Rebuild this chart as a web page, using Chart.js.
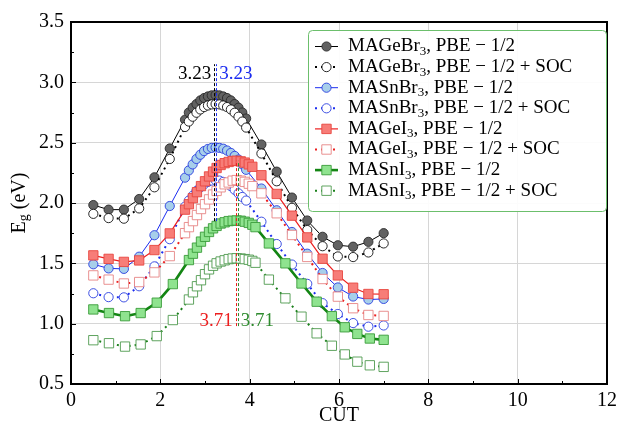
<!DOCTYPE html>
<html>
<head>
<meta charset="utf-8">
<script src="https://cdn.jsdelivr.net/npm/chart.js@4.4.0/dist/chart.umd.min.js"></script>
<style>
  html, body { margin: 0; padding: 0; background: #fff; }
  #wrap { width: 622px; height: 426px; position: relative; }
</style>
</head>
<body>
<div id="wrap"><canvas id="myChart"></canvas></div>
<script>
// x positions (CUT) - Br compounds and MAGeI3 share the coarse grid, MASnI3 has its own
const xBr = [0.5, 0.842, 1.184, 1.526, 1.868, 2.211, 2.553, 2.638, 2.724, 2.809, 2.895, 2.98, 3.066, 3.151, 3.237, 3.322, 3.408, 3.493, 3.579, 3.664, 3.75, 3.835, 3.921, 4.263, 4.605, 4.947, 5.289, 5.632, 5.974, 6.316, 6.658, 7.0];
const xGeI = [0.5, 0.842, 1.184, 1.526, 1.868, 2.211, 2.553, 2.64, 2.73, 2.82, 2.91, 3.0, 3.09, 3.18, 3.26, 3.35, 3.44, 3.53, 3.62, 3.71, 3.8, 3.89, 3.98, 4.06, 4.263, 4.605, 4.947, 5.289, 5.632, 5.974, 6.316, 6.658, 7.0];
const xSnI = [0.5, 0.85, 1.21, 1.56, 1.92, 2.28, 2.64, 2.73, 2.82, 2.91, 3.0, 3.09, 3.18, 3.26, 3.35, 3.44, 3.53, 3.62, 3.71, 3.8, 3.89, 3.98, 4.06, 4.13, 4.43, 4.8, 5.16, 5.5, 5.84, 6.13, 6.41, 6.69, 7.0];

// band gaps (eV)
const geBr = [1.983, 1.945, 1.945, 2.033, 2.213, 2.452, 2.69, 2.75, 2.79, 2.82, 2.85, 2.87, 2.883, 2.892, 2.895, 2.892, 2.883, 2.87, 2.85, 2.82, 2.79, 2.75, 2.70, 2.485, 2.26, 2.045, 1.855, 1.72, 1.65, 1.638, 1.678, 1.75];
const geBrSoc = [1.91, 1.875, 1.87, 1.955, 2.13, 2.365, 2.63, 2.675, 2.715, 2.748, 2.775, 2.795, 2.808, 2.817, 2.82, 2.817, 2.808, 2.795, 2.775, 2.748, 2.715, 2.675, 2.625, 2.41, 2.18, 1.96, 1.776, 1.642, 1.557, 1.552, 1.59, 1.665];
const snBr = [1.492, 1.458, 1.454, 1.555, 1.733, 1.975, 2.21, 2.27, 2.32, 2.365, 2.40, 2.43, 2.448, 2.457, 2.46, 2.457, 2.45, 2.435, 2.415, 2.39, 2.36, 2.32, 2.275, 2.12, 1.94, 1.76, 1.58, 1.42, 1.30, 1.225, 1.20, 1.205];
const snBrSoc = [1.252, 1.22, 1.218, 1.31, 1.475, 1.70, 1.97, 2.02, 2.06, 2.10, 2.13, 2.155, 2.175, 2.186, 2.19, 2.186, 2.175, 2.16, 2.14, 2.11, 2.08, 2.05, 2.02, 1.845, 1.66, 1.49, 1.33, 1.17, 1.08, 1.005, 0.975, 0.985];
const geI = [1.566, 1.537, 1.512, 1.524, 1.61, 1.748, 1.945, 1.99, 2.04, 2.09, 2.14, 2.18, 2.22, 2.26, 2.29, 2.315, 2.33, 2.34, 2.348, 2.35, 2.345, 2.335, 2.32, 2.30, 2.23, 2.075, 1.895, 1.715, 1.538, 1.40, 1.298, 1.246, 1.244];
const geISoc = [1.40, 1.365, 1.333, 1.345, 1.425, 1.56, 1.75, 1.80, 1.85, 1.90, 1.95, 1.99, 2.03, 2.07, 2.10, 2.13, 2.155, 2.17, 2.185, 2.19, 2.185, 2.175, 2.16, 2.14, 2.08, 1.915, 1.735, 1.553, 1.37, 1.224, 1.128, 1.072, 1.064];
const snI = [1.118, 1.088, 1.062, 1.088, 1.174, 1.328, 1.527, 1.58, 1.63, 1.68, 1.72, 1.76, 1.79, 1.81, 1.83, 1.84, 1.85, 1.853, 1.855, 1.853, 1.845, 1.835, 1.82, 1.80, 1.665, 1.50, 1.333, 1.182, 1.062, 0.97, 0.915, 0.877, 0.866];
const snISoc = [0.863, 0.838, 0.81, 0.828, 0.897, 1.03, 1.20, 1.26, 1.31, 1.36, 1.41, 1.45, 1.48, 1.50, 1.515, 1.525, 1.535, 1.54, 1.542, 1.54, 1.535, 1.53, 1.52, 1.505, 1.365, 1.21, 1.058, 0.92, 0.817, 0.745, 0.685, 0.655, 0.642];

const labels = ['MAGeBr₃, PBE − 1/2', 'MAGeBr₃, PBE − 1/2 + SOC', 'MASnBr₃, PBE − 1/2', 'MASnBr₃, PBE − 1/2 + SOC',
                'MAGeI₃, PBE − 1/2', 'MAGeI₃, PBE − 1/2 + SOC', 'MASnI₃, PBE − 1/2', 'MASnI₃, PBE − 1/2 + SOC'];

// peak positions marked with dashed lines
const peakBr = 3.23;
const peakI = 3.71;

const FONT = "'Liberation Serif', 'DejaVu Serif', serif";

function pts(xs, ys) {
    return xs.map((v, i) => ({ x: v, y: ys[i] }));
}

// style of each series: marker, fill, edge, line colour, line width, dotted?
const styles = [
    { shape: 'circle', fill: '#626262', edge: '#2a2a2a', line: '#000000', lw: 1, dot: false },
    { shape: 'circle', fill: '#ffffff', edge: '#111111', line: '#000000', lw: 2, dot: true },
    { shape: 'circle', fill: '#a7cfea', edge: '#2a3ee0', line: '#1b2cf0', lw: 1, dot: false },
    { shape: 'rectless', fill: '#ffffff', edge: '#2a3ee0', line: '#1b2cf0', lw: 2, dot: true },
    { shape: 'rect', fill: '#f77d78', edge: '#e8463f', line: '#ec1e1e', lw: 1.2, dot: false },
    { shape: 'rect', fill: '#ffffff', edge: '#e68585', line: '#ec1e1e', lw: 2, dot: true },
    { shape: 'rect', fill: '#8fe38f', edge: '#3a9c3a', line: '#138513', lw: 2.6, dot: false },
    { shape: 'rect', fill: '#ffffff', edge: '#4e9a4e', line: '#1a801a', lw: 2, dot: true },
];
styles[3].shape = 'circle';

const series = [pts(xBr, geBr), pts(xBr, geBrSoc), pts(xBr, snBr), pts(xBr, snBrSoc),
                pts(xGeI, geI), pts(xGeI, geISoc), pts(xSnI, snI), pts(xSnI, snISoc)];

const datasets = series.map((d, i) => {
    const s = styles[i];
    return {
        label: labels[i],
        data: d,
        order: 8 - i,
        borderColor: s.line,
        borderWidth: s.lw,
        borderDash: s.dot ? [2, 4] : [],
        fill: false,
        tension: 0,
        pointStyle: s.shape,
        pointRadius: s.shape === 'rect' ? 6.6 : 4.6,
        pointBackgroundColor: s.fill,
        pointBorderColor: s.edge,
        pointBorderWidth: 0.9,
    };
});

function drawMarker(ctx, s, x, y) {
    ctx.save();
    ctx.setLineDash([]);
    ctx.fillStyle = s.fill;
    ctx.strokeStyle = s.edge;
    ctx.lineWidth = 0.9;
    ctx.beginPath();
    if (s.shape === 'rect') {
        ctx.rect(x - 4.7, y - 4.7, 9.4, 9.4);
    } else {
        ctx.arc(x, y, 4.6, 0, Math.PI * 2);
    }
    ctx.fill();
    ctx.stroke();
    ctx.restore();
}

// text with a "₃" drawn as a real subscript
function drawSubText(ctx, text, x, y, size, align) {
    const parts = text.split('₃');
    ctx.font = size + 'px ' + FONT;
    const subSize = Math.round(size * 0.7);
    let total = ctx.measureText(parts[0]).width;
    if (parts.length > 1) {
        ctx.font = subSize + 'px ' + FONT;
        total += ctx.measureText('3').width;
        ctx.font = size + 'px ' + FONT;
        total += ctx.measureText(parts[1]).width;
    }
    let cx = align === 'center' ? x - total / 2 : x;
    ctx.textAlign = 'left';
    ctx.textBaseline = 'middle';
    ctx.font = size + 'px ' + FONT;
    ctx.fillText(parts[0], cx, y);
    cx += ctx.measureText(parts[0]).width;
    if (parts.length > 1) {
        ctx.font = subSize + 'px ' + FONT;
        ctx.fillText('3', cx, y + 5);
        cx += ctx.measureText('3').width;
        ctx.font = size + 'px ' + FONT;
        ctx.fillText(parts[1], cx, y);
    }
}

const decor = {
    id: 'decor',
    afterDatasetsDraw(chart) {
        const { ctx, scales: { x, y } } = chart;
        const vlines = [
            { v: peakBr - 0.02, y0: 1.85, y1: 3.15, c: '#000000' },
            { v: peakBr + 0.02, y0: 1.85, y1: 3.15, c: '#1b2cf0' },
            { v: peakI - 0.02, y0: 0.98, y1: 2.35, c: '#ec1e1e' },
            { v: peakI + 0.02, y0: 0.98, y1: 2.35, c: '#2e8b2e' },
        ];
        ctx.save();
        ctx.lineWidth = 1;
        ctx.setLineDash([3, 2]);
        vlines.forEach(l => {
            const px = Math.round(x.getPixelForValue(l.v)) + 0.5;
            ctx.strokeStyle = l.c;
            ctx.beginPath();
            ctx.moveTo(px, y.getPixelForValue(l.y0));
            ctx.lineTo(px, y.getPixelForValue(l.y1));
            ctx.stroke();
        });
        ctx.setLineDash([]);
        ctx.font = '19px ' + FONT;
        ctx.textBaseline = 'middle';
        const bx = x.getPixelForValue(peakBr);
        const ix = x.getPixelForValue(peakI);
        ctx.textAlign = 'right';
        ctx.fillStyle = '#000000';
        ctx.fillText(peakBr.toFixed(2), bx - 4, y.getPixelForValue(3.07));
        ctx.fillStyle = '#ec1e1e';
        ctx.fillText(peakI.toFixed(2), ix - 4, y.getPixelForValue(1.02));
        ctx.textAlign = 'left';
        ctx.fillStyle = '#1b2cf0';
        ctx.fillText(peakBr.toFixed(2), bx + 4, y.getPixelForValue(3.07));
        ctx.fillStyle = '#2e8b2e';
        ctx.fillText(peakI.toFixed(2), ix + 4, y.getPixelForValue(1.02));
        ctx.restore();
    },
    afterDraw(chart) {
        const { ctx, chartArea: a, scales: { x, y } } = chart;
        ctx.save();
        // inward ticks
        ctx.strokeStyle = '#000';
        ctx.lineWidth = 1;
        ctx.beginPath();
        for (let v = 0.5; v <= 3.5001; v += 0.25) {
            const py = Math.round(y.getPixelForValue(v)) + 0.5;
            const len = Math.abs((v * 2) - Math.round(v * 2)) < 0.01 ? 5 : 3;
            ctx.moveTo(a.left, py);
            ctx.lineTo(a.left + len, py);
        }
        for (let v = 0; v <= 12; v += 1) {
            const px = Math.round(x.getPixelForValue(v)) + 0.5;
            const len = v % 2 === 0 ? 5 : 3;
            ctx.moveTo(px, a.bottom);
            ctx.lineTo(px, a.bottom - len);
        }
        ctx.stroke();
        // frame
        ctx.lineWidth = 2;
        ctx.strokeRect(a.left, a.top, a.right - a.left, a.bottom - a.top);

        // axis titles
        ctx.fillStyle = '#000';
        ctx.font = '20px ' + FONT;
        ctx.textAlign = 'center';
        ctx.textBaseline = 'middle';
        ctx.fillText('CUT', (a.left + a.right) / 2, 416);
        ctx.save();
        ctx.translate(20, (a.top + a.bottom) / 2);
        ctx.rotate(-Math.PI / 2);
        const t1 = 'E', t3 = ' (eV)';
        ctx.font = '20px ' + FONT;
        const w1 = ctx.measureText(t1).width, w3 = ctx.measureText(t3).width;
        ctx.font = '14px ' + FONT;
        const w2 = ctx.measureText('g').width;
        let sx = -(w1 + w2 + w3) / 2;
        ctx.textAlign = 'left';
        ctx.font = '20px ' + FONT;
        ctx.fillText(t1, sx, 0);
        ctx.font = '14px ' + FONT;
        ctx.fillText('g', sx + w1, 4);
        ctx.font = '20px ' + FONT;
        ctx.fillText(t3, sx + w1 + w2, 0);
        ctx.restore();

        // legend
        const lx = 308, ly = 30, lw = 298, lh = 181;
        ctx.beginPath();
        ctx.roundRect(lx + 0.5, ly + 0.5, lw, lh, 4);
        ctx.fillStyle = 'rgba(255,255,255,0.92)';
        ctx.fill();
        ctx.strokeStyle = '#6cbf6c';
        ctx.lineWidth = 1;
        ctx.stroke();
        labels.forEach((lab, i) => {
            const s = styles[i];
            const ry = 46.5 + i * 20.6;
            ctx.save();
            ctx.strokeStyle = s.line;
            ctx.lineWidth = s.lw;
            ctx.setLineDash(s.dot ? [2, 4] : []);
            ctx.beginPath();
            ctx.moveTo(315, ry);
            ctx.lineTo(338, ry);
            ctx.stroke();
            ctx.restore();
            drawMarker(ctx, s, 326.5, ry);
            ctx.fillStyle = '#000';
            drawSubText(ctx, lab, 348, ry, 19, 'left');
        });
        ctx.restore();
    }
};

Chart.defaults.font.family = FONT;
Chart.defaults.color = '#000';

new Chart(document.getElementById('myChart'), {
    type: 'line',
    data: { datasets: datasets },
    options: {
        responsive: true,
        maintainAspectRatio: false,
        animation: false,
        layout: { padding: { top: 22, right: 11, left: 0, bottom: 0 } },
        plugins: {
            legend: { display: false },
            tooltip: { enabled: false },
        },
        scales: {
            x: {
                type: 'linear',
                min: 0,
                max: 12,
                border: { display: false },
                grid: { color: '#d6d6d6', drawTicks: false },
                ticks: { stepSize: 2, padding: 5, font: { size: 20 }, maxRotation: 0 },
                afterFit: (scale) => { scale.height = 42; },
            },
            y: {
                min: 0.5,
                max: 3.5,
                border: { display: false },
                grid: { color: '#d6d6d6', drawTicks: false },
                ticks: { stepSize: 0.5, padding: 7, font: { size: 20 }, callback: (v) => v.toFixed(1) },
                afterFit: (scale) => { scale.width = 71; },
            },
        },
    },
    plugins: [decor],
});
</script>
</body>
</html>
